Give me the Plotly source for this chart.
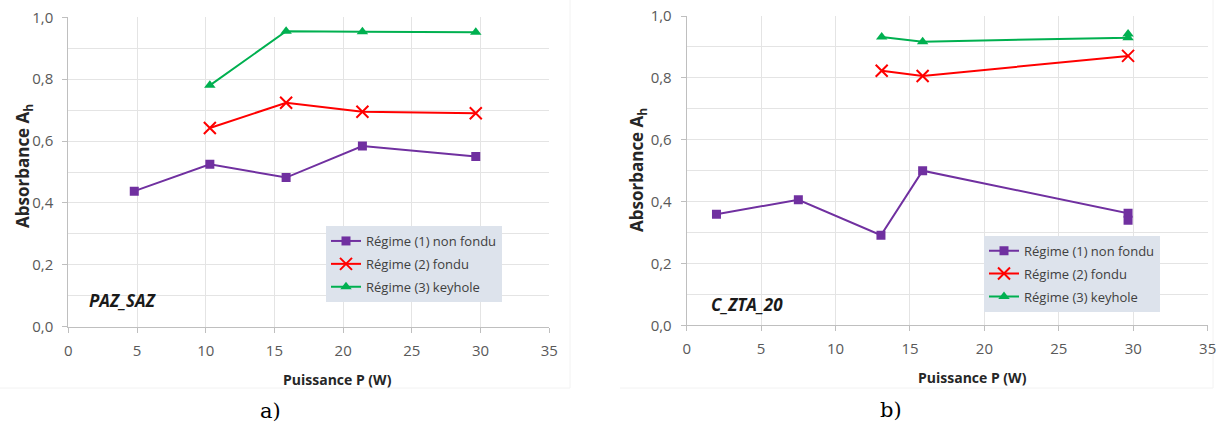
import plotly.graph_objects as go

W, H = 1227, 426

# ---- data ----
reg1_name = "Régime (1) non fondu"
reg2_name = "Régime (2) fondu"
reg3_name = "Régime (3) keyhole"

a_r1_x = [4.8, 10.3, 15.85, 21.4, 29.65]
a_r1_y = [0.438, 0.525, 0.482, 0.584, 0.550]
a_r2_x = [10.3, 15.85, 21.4, 29.65]
a_r2_y = [0.642, 0.724, 0.695, 0.690]
a_r3_x = [10.3, 15.85, 21.4, 29.65]
a_r3_y = [0.780, 0.955, 0.953, 0.952]

b_r1_x = [2.0, 7.5, 13.05, 15.85, 29.65, 29.65]
b_r1_y = [0.359, 0.406, 0.291, 0.500, 0.362, 0.340]
b_r2_x = [13.1, 15.85, 29.65]
b_r2_y = [0.823, 0.806, 0.871]
b_r3_x = [13.1, 15.85, 29.65, 29.65]
b_r3_y = [0.932, 0.917, 0.930, 0.942]

x_ticks = [0, 5, 10, 15, 20, 25, 30, 35]
y_ticks = [0.0, 0.2, 0.4, 0.6, 0.8, 1.0]

PURPLE = "#7030a0"
RED = "#ff0000"
GREEN = "#00b050"
FONT = "Open Sans"


def px_x(p):
    return p / W


def px_y(p):
    return 1 - p / H


fig = go.Figure()


def add_series(xs, ys, name, color, symbol, size, xa, ya, legend, group, mline=None):
    marker = dict(symbol=symbol, size=size, color=color)
    if mline:
        marker["line"] = mline
    fig.add_trace(go.Scatter(
        x=xs, y=ys, name=name, mode="lines+markers",
        line=dict(color=color, width=2),
        marker=marker, xaxis=xa, yaxis=ya, legend=legend,
        legendgroup=group,
    ))


add_series(a_r1_x, a_r1_y, reg1_name, PURPLE, "square", 9, "x", "y", "legend", "a1")
add_series(a_r2_x, a_r2_y, reg2_name, RED, "x-thin", 12, "x", "y", "legend", "a2",
           mline=dict(color=RED, width=2))
add_series(a_r3_x, a_r3_y, reg3_name, GREEN, "triangle-up", 10, "x", "y", "legend", "a3")

add_series(b_r1_x, b_r1_y, reg1_name, PURPLE, "square", 9, "x2", "y2", "legend2", "b1")
add_series(b_r2_x, b_r2_y, reg2_name, RED, "x-thin", 12, "x2", "y2", "legend2", "b2",
           mline=dict(color=RED, width=2))
add_series(b_r3_x, b_r3_y, reg3_name, GREEN, "triangle-up", 10, "x2", "y2", "legend2", "b3")

GRID = "#e4e4e4"
AXLINE = "#bfbfbf"
TICKFONT = dict(family=FONT, size=15, color="#595959")

xcommon = dict(range=[0, 35], tickvals=x_ticks, showgrid=True, gridcolor=GRID,
               gridwidth=1, showline=True, linecolor=AXLINE, linewidth=1,
               ticks="outside", ticklen=5, tickcolor=AXLINE, zeroline=False,
               tickfont=TICKFONT, ticklabelstandoff=5, fixedrange=True,
               automargin=False)
ycommon = dict(range=[0, 1], tickvals=y_ticks, tickformat=".1f", showgrid=True,
               gridcolor=GRID, gridwidth=1, showline=True, linecolor=AXLINE,
               linewidth=1, ticks="outside", ticklen=5, tickcolor=AXLINE,
               zeroline=False, tickfont=TICKFONT, ticklabelstandoff=6,
               minor=dict(dtick=0.1, showgrid=True, gridcolor=GRID, ticks=""),
               fixedrange=True, automargin=False)

fig.update_layout(
    width=W, height=H,
    margin=dict(l=0, r=0, t=0, b=0, autoexpand=False),
    paper_bgcolor="white", plot_bgcolor="white",
    separators=", ",
    showlegend=True,
    xaxis=dict(domain=[px_x(68.3), px_x(549.3)], anchor="y", **xcommon),
    yaxis=dict(domain=[px_y(326.7), px_y(17.3)], anchor="x", **ycommon),
    xaxis2=dict(domain=[px_x(686.7), px_x(1207.7)], anchor="y2", **xcommon),
    yaxis2=dict(domain=[px_y(325.3), px_y(16)], anchor="x2", **ycommon),
    legend=dict(x=px_x(326), y=px_y(226), xanchor="left", yanchor="top",
                bgcolor="#dde3ec", borderwidth=0, tracegroupgap=3,
                font=dict(family=FONT, size=13, color="#404040"),
                itemwidth=30),
    legend2=dict(x=px_x(984), y=px_y(235.7), xanchor="left", yanchor="top",
                 bgcolor="#dde3ec", borderwidth=0, tracegroupgap=3,
                 font=dict(family=FONT, size=13, color="#404040"),
                 itemwidth=30),
)

TITLEFONT = dict(family=FONT, size=14, color="#262626")
YTFONT = dict(family=FONT, size=17, color="#262626")
LABFONT = dict(family=FONT, size=17, color="#1a1a1a")
annots = [
    dict(text="<b>Puissance P (W)</b>", x=px_x(337.5), y=px_y(379), font=TITLEFONT),
    dict(text="<b>Puissance P (W)</b>", x=px_x(972.5), y=px_y(377), font=TITLEFONT),
    dict(text="<b>Absorbance A<sub>h</sub></b>", x=px_x(23), y=px_y(166),
         textangle=-90, font=YTFONT),
    dict(text="<b>Absorbance A<sub>h</sub></b>", x=px_x(637), y=px_y(170),
         textangle=-90, font=YTFONT),
    dict(text="<b><i>PAZ_SAZ</i></b>", x=px_x(122), y=px_y(300), font=LABFONT),
    dict(text="<b><i>C_ZTA_20</i></b>", x=px_x(747), y=px_y(304), font=LABFONT),
    dict(text="a)", x=px_x(270), y=px_y(411),
         font=dict(family="DejaVu Serif", size=21, color="#000000")),
    dict(text="b)", x=px_x(891), y=px_y(410),
         font=dict(family="DejaVu Serif", size=21, color="#000000")),
]
for a in annots:
    a.update(xref="paper", yref="paper", showarrow=False,
             xanchor="center", yanchor="middle")
    fig.add_annotation(**a)

# faint chart-area borders
BORDER = "#f2f2f2"
for x0, y0, x1, y1 in [(570, 0, 570, 388), (0, 388, 570, 388),
                       (1213, 0, 1213, 388), (620, 388, 1213, 388)]:
    fig.add_shape(type="line", xref="paper", yref="paper",
                  x0=px_x(x0), y0=px_y(y0), x1=px_x(x1), y1=px_y(y1),
                  line=dict(color=BORDER, width=1), layer="below")

fig.write_html("out.html",
               config={"displayModeBar": False, "staticPlot": True},
               post_script="document.body.style.margin='0px';"
                           "document.body.style.padding='0px';"
                           "document.body.style.overflow='hidden';")
